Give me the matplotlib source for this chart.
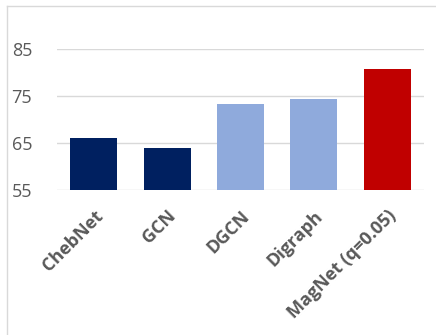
import matplotlib
matplotlib.use("Agg")
import matplotlib.pyplot as plt
from matplotlib.lines import Line2D
import numpy as np

models = ["ChebNet", "GCN", "DGCN", "Digraph", "MagNet (q=0.05)"]
accuracy = [66.1, 64.0, 73.4, 74.4, 80.8]
colors = ["#002060", "#002060", "#8FAADC", "#8FAADC", "#C00000"]

plt.rcParams["font.family"] = ["Open Sans", "DejaVu Sans"]

fig = plt.figure(figsize=(4.36, 3.35), dpi=100)
ax = fig.add_axes([57 / 436, 1 - 190.3 / 335, 367 / 436, 141 / 335])

index = np.arange(len(models))
ax.bar(index, accuracy, width=0.64, color=colors, zorder=2)

ax.set_xlim(-0.5, len(models) - 0.5)
ax.set_ylim(55, 85)
ax.set_yticks([55, 65, 75, 85])
ax.grid(axis="y", color="#d9d9d9", linewidth=1, zorder=0)
for s in ax.spines.values():
    s.set_visible(False)
ax.tick_params(axis="y", length=0, pad=18, labelsize=13, labelcolor="#595959")
ax.tick_params(axis="x", length=0, pad=12)
ax.set_xticks(index)
ax.set_xticklabels(models, rotation=45, ha="right", rotation_mode="anchor",
                   fontsize=13, fontweight="bold", color="#595959")

# chart area border (left and top)
fig.add_artist(Line2D([7 / 436, 7 / 436], [0, 1 - 6 / 335], color="#d9d9d9", lw=1))
fig.add_artist(Line2D([7 / 436, 1], [1 - 6 / 335, 1 - 6 / 335], color="#d9d9d9", lw=1))

fig.savefig("out.png", dpi=100)
